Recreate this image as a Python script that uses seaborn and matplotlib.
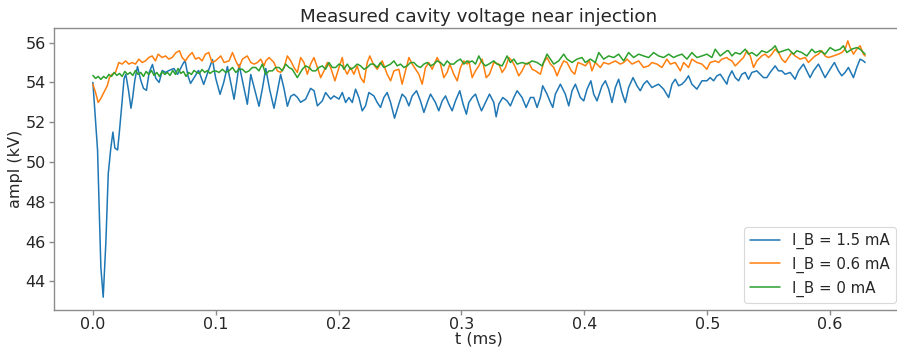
import numpy as np
import pandas as pd
import matplotlib
matplotlib.use("Agg")
import matplotlib.pyplot as plt
import seaborn as sns

# ---- data ----
t_hi = [0.0000, 0.0038, 0.0065, 0.0084, 0.0106, 0.0125, 0.0146, 0.0163, 0.0179, 0.0201,
        0.0214, 0.0233, 0.0254, 0.0268, 0.0290, 0.0310, 0.0323, 0.0341, 0.0363, 0.0390,
        0.0412, 0.0436, 0.0458, 0.0485, 0.0512, 0.0539, 0.0565, 0.0591, 0.0620, 0.0660,
        0.0689, 0.0730, 0.0750, 0.0775, 0.0795, 0.0830, 0.0860, 0.0902, 0.0935, 0.0973,
        0.1000, 0.1035, 0.1065, 0.1095, 0.1125, 0.1149, 0.1170, 0.1190, 0.1220, 0.1257,
        0.1285, 0.1310, 0.1352, 0.1380, 0.1407, 0.1440, 0.1474, 0.1500, 0.1528, 0.1555,
        0.1583, 0.1610, 0.1637, 0.1664, 0.1691, 0.1732, 0.1772, 0.1800, 0.1827, 0.1867,
        0.1894, 0.1935, 0.1962, 0.2003, 0.2030, 0.2057, 0.2084, 0.2111, 0.2138, 0.2165,
        0.2192, 0.2219, 0.2246, 0.2287, 0.2314, 0.2341, 0.2368, 0.2395, 0.2423, 0.2455,
        0.2490, 0.2517, 0.2544, 0.2572, 0.2599, 0.2634, 0.2666, 0.2694, 0.2726, 0.2748,
        0.2788, 0.2815, 0.2843, 0.2870, 0.2897, 0.2924, 0.2951, 0.2986, 0.3013, 0.3040,
        0.3060, 0.3087, 0.3114, 0.3141, 0.3163, 0.3195, 0.3228, 0.3263, 0.3282, 0.3304,
        0.3336, 0.3371, 0.3398, 0.3426, 0.3453, 0.3493, 0.3526, 0.3561, 0.3588, 0.3615,
        0.3642, 0.3661, 0.3696, 0.3724, 0.3743, 0.3764, 0.3805, 0.3845, 0.3873, 0.3900,
        0.3927, 0.3967, 0.3995, 0.4022, 0.4053, 0.4076, 0.4103, 0.4144, 0.4171, 0.4198,
        0.4225, 0.4252, 0.4279, 0.4306, 0.4333, 0.4360, 0.4396, 0.4428, 0.4455, 0.4482,
        0.4510, 0.4550, 0.4577, 0.4604, 0.4645, 0.4686, 0.4713, 0.4740, 0.4767, 0.4794,
        0.4821, 0.4848, 0.4875, 0.4916, 0.4957, 0.4997, 0.5024, 0.5052, 0.5079, 0.5106,
        0.5133, 0.5160, 0.5173, 0.5201, 0.5228, 0.5255, 0.5282, 0.5309, 0.5336, 0.5363,
        0.5404, 0.5431, 0.5458, 0.5485, 0.5512, 0.5553, 0.5580, 0.5607, 0.5634, 0.5675,
        0.5715, 0.5743, 0.5783, 0.5810, 0.5837, 0.5865, 0.5905, 0.5932, 0.5959, 0.6000,
        0.6035, 0.6068, 0.6095, 0.6122, 0.6149, 0.6190, 0.6217, 0.6244, 0.6271, 0.6285]
v_hi = [54.00, 50.60, 44.70, 43.20, 46.00, 49.40, 50.70, 51.50, 50.70, 50.60,
        51.40, 52.70, 54.20, 54.40, 53.60, 52.70, 53.20, 54.10, 54.80, 54.10,
        53.70, 53.60, 54.50, 54.90, 54.20, 54.00, 54.60, 54.50, 54.60, 54.70,
        54.40, 54.90, 55.10, 54.30, 53.95, 54.30, 54.60, 53.90, 54.50, 55.15,
        54.20, 53.40, 54.00, 54.80, 53.90, 53.15, 54.00, 54.90, 54.00, 52.90,
        54.40, 53.80, 52.80, 53.70, 54.70, 53.60, 52.70, 53.50, 54.40, 53.70,
        52.80, 53.30, 53.40, 53.25, 53.00, 53.16, 53.70, 53.58, 52.82, 53.07,
        53.49, 53.16, 53.32, 53.16, 53.49, 52.99, 53.24, 52.99, 53.66, 53.24,
        52.57, 52.82, 53.49, 53.32, 52.99, 52.74, 53.24, 53.49, 52.99, 52.20,
        52.91, 53.41, 53.24, 52.82, 53.32, 53.58, 53.07, 52.49, 53.07, 53.41,
        52.99, 52.57, 53.07, 53.32, 52.91, 52.57, 53.07, 53.58, 52.91, 52.40,
        52.99, 53.24, 53.41, 52.91, 52.57, 52.99, 53.41, 52.99, 52.27, 52.91,
        53.24, 53.07, 52.82, 53.24, 53.58, 53.24, 52.74, 53.24, 53.24, 52.74,
        53.24, 53.83, 53.41, 52.99, 52.74, 53.41, 53.91, 53.41, 52.82, 53.58,
        53.91, 53.24, 53.07, 53.66, 54.08, 53.41, 53.07, 53.83, 54.08, 53.66,
        52.99, 53.74, 54.16, 53.49, 52.99, 53.74, 54.24, 53.83, 53.58, 53.91,
        54.08, 53.74, 53.83, 53.91, 53.66, 53.24, 53.91, 54.16, 53.83, 53.91,
        54.08, 54.33, 53.91, 53.66, 54.08, 54.08, 54.24, 54.08, 54.33, 54.41,
        54.16, 53.91, 54.24, 54.58, 54.24, 54.08, 54.41, 54.50, 54.16, 54.50,
        54.58, 54.41, 54.24, 54.24, 54.50, 54.83, 54.58, 54.58, 54.41, 54.50,
        54.16, 54.58, 54.92, 54.58, 54.24, 54.58, 54.92, 54.58, 54.24, 54.66,
        55.00, 54.58, 54.33, 54.50, 54.75, 54.24, 54.75, 55.17, 55.08, 55.00]

t_mid = [0.0000, 0.0022, 0.0043, 0.0062, 0.0089, 0.0117, 0.0135, 0.0157, 0.0184, 0.0211,
         0.0238, 0.0266, 0.0293, 0.0320, 0.0347, 0.0374, 0.0401, 0.0428, 0.0455, 0.0482,
         0.0509, 0.0531, 0.0564, 0.0591, 0.0618, 0.0645, 0.0677, 0.0705, 0.0726, 0.0753,
         0.0780, 0.0808, 0.0835, 0.0862, 0.0889, 0.0916, 0.0943, 0.0970, 0.0997, 0.1041,
         0.1068, 0.1108, 0.1136, 0.1163, 0.1190, 0.1217, 0.1257, 0.1285, 0.1312, 0.1339,
         0.1366, 0.1393, 0.1407, 0.1434, 0.1474, 0.1501, 0.1528, 0.1556, 0.1583, 0.1610,
         0.1637, 0.1664, 0.1691, 0.1718, 0.1745, 0.1772, 0.1799, 0.1827, 0.1854, 0.1881,
         0.1908, 0.1935, 0.1970, 0.2003, 0.2030, 0.2043, 0.2070, 0.2097, 0.2124, 0.2151,
         0.2179, 0.2206, 0.2233, 0.2254, 0.2282, 0.2314, 0.2355, 0.2395, 0.2423, 0.2450,
         0.2490, 0.2517, 0.2544, 0.2572, 0.2599, 0.2626, 0.2653, 0.2680, 0.2707, 0.2734,
         0.2761, 0.2802, 0.2829, 0.2856, 0.2883, 0.2905, 0.2937, 0.2965, 0.2992, 0.3019,
         0.3046, 0.3060, 0.3087, 0.3114, 0.3141, 0.3168, 0.3201, 0.3228, 0.3263, 0.3304,
         0.3331, 0.3358, 0.3385, 0.3412, 0.3439, 0.3466, 0.3493, 0.3520, 0.3547, 0.3575,
         0.3602, 0.3642, 0.3669, 0.3696, 0.3724, 0.3751, 0.3778, 0.3805, 0.3832, 0.3859,
         0.3894, 0.3921, 0.3948, 0.3981, 0.4008, 0.4041, 0.4062, 0.4089, 0.4130, 0.4157,
         0.4198, 0.4225, 0.4252, 0.4293, 0.4320, 0.4347, 0.4388, 0.4415, 0.4442, 0.4482,
         0.4523, 0.4550, 0.4591, 0.4631, 0.4672, 0.4699, 0.4740, 0.4781, 0.4808, 0.4848,
         0.4875, 0.4916, 0.4957, 0.4997, 0.5024, 0.5065, 0.5092, 0.5119, 0.5160, 0.5173,
         0.5201, 0.5228, 0.5255, 0.5295, 0.5323, 0.5350, 0.5377, 0.5404, 0.5444, 0.5471,
         0.5499, 0.5526, 0.5553, 0.5580, 0.5607, 0.5634, 0.5661, 0.5688, 0.5715, 0.5756,
         0.5797, 0.5824, 0.5851, 0.5878, 0.5905, 0.5932, 0.5959, 0.5986, 0.6027, 0.6068,
         0.6095, 0.6122, 0.6144, 0.6163, 0.6190, 0.6217, 0.6244, 0.6271, 0.6285]
v_mid = [53.91, 53.49, 52.99, 53.16, 53.49, 53.83, 54.24, 54.41, 54.50, 55.00,
         54.92, 55.08, 54.92, 55.00, 54.92, 55.17, 55.00, 55.08, 55.25, 55.33,
         55.08, 55.42, 55.25, 55.33, 55.17, 55.25, 55.50, 55.59, 55.25, 55.08,
         55.33, 55.50, 55.17, 55.25, 55.08, 55.42, 55.50, 55.00, 55.08, 55.33,
         55.00, 55.08, 55.50, 55.08, 54.75, 55.17, 55.33, 55.00, 54.92, 55.00,
         55.17, 54.83, 55.08, 55.25, 55.00, 54.58, 54.50, 54.75, 55.33, 55.08,
         54.75, 54.50, 55.25, 55.00, 54.41, 54.92, 55.25, 54.75, 54.24, 54.58,
         55.00, 54.75, 54.08, 54.75, 55.25, 54.75, 54.41, 54.75, 54.41, 54.83,
         54.24, 53.99, 55.00, 55.33, 54.92, 54.66, 55.08, 54.41, 54.08, 54.58,
         54.66, 53.91, 54.58, 55.25, 54.92, 54.66, 54.41, 53.91, 54.75, 55.00,
         54.66, 55.25, 54.92, 54.24, 54.50, 54.92, 54.41, 54.08, 54.75, 55.08,
         54.92, 55.08, 54.24, 54.58, 54.83, 55.17, 54.24, 54.41, 55.00, 54.92,
         54.50, 54.75, 55.25, 55.08, 54.75, 54.33, 54.58, 54.92, 55.00, 54.66,
         54.58, 54.41, 55.00, 55.25, 54.92, 54.75, 54.33, 54.75, 55.08, 55.00,
         54.58, 54.41, 55.00, 54.92, 54.83, 55.08, 54.58, 55.00, 54.75, 55.00,
         54.92, 55.00, 55.08, 54.92, 55.00, 55.17, 54.92, 55.00, 55.08, 54.75,
         54.83, 55.00, 54.92, 54.75, 55.17, 54.92, 55.00, 54.58, 55.00, 54.75,
         55.17, 55.00, 54.92, 54.66, 55.00, 55.08, 55.00, 55.17, 55.25, 55.17,
         55.08, 54.83, 55.00, 55.25, 55.59, 55.33, 54.75, 55.08, 55.33, 55.42,
         55.25, 55.42, 55.67, 55.50, 55.17, 55.00, 55.25, 55.50, 55.33, 55.17,
         55.25, 55.00, 55.17, 55.33, 55.42, 55.59, 55.33, 55.25, 55.33, 55.42,
         55.50, 55.67, 56.09, 55.75, 55.42, 55.67, 55.84, 55.42, 55.33]

t_zero = [0.0000, 0.0022, 0.0043, 0.0065, 0.0087, 0.0108, 0.0130, 0.0152, 0.0173, 0.0195,
          0.0217, 0.0238, 0.0260, 0.0282, 0.0303, 0.0325, 0.0347, 0.0368, 0.0390, 0.0412,
          0.0433, 0.0455, 0.0477, 0.0498, 0.0520, 0.0542, 0.0563, 0.0585, 0.0607, 0.0628,
          0.0650, 0.0672, 0.0693, 0.0715, 0.0737, 0.0758, 0.0780, 0.0802, 0.0823, 0.0845,
          0.0867, 0.0888, 0.0910, 0.0932, 0.0953, 0.0975, 0.1000, 0.1027, 0.1054, 0.1081,
          0.1108, 0.1136, 0.1163, 0.1190, 0.1217, 0.1244, 0.1271, 0.1298, 0.1325, 0.1352,
          0.1379, 0.1407, 0.1434, 0.1461, 0.1488, 0.1515, 0.1542, 0.1569, 0.1596, 0.1623,
          0.1664, 0.1705, 0.1732, 0.1759, 0.1786, 0.1813, 0.1840, 0.1867, 0.1894, 0.1921,
          0.1949, 0.1976, 0.2003, 0.2030, 0.2043, 0.2070, 0.2097, 0.2124, 0.2151, 0.2179,
          0.2206, 0.2233, 0.2260, 0.2287, 0.2314, 0.2341, 0.2368, 0.2395, 0.2423, 0.2450,
          0.2477, 0.2504, 0.2531, 0.2558, 0.2585, 0.2612, 0.2639, 0.2666, 0.2694, 0.2721,
          0.2748, 0.2775, 0.2802, 0.2829, 0.2856, 0.2883, 0.2910, 0.2937, 0.2965, 0.2992,
          0.3019, 0.3046, 0.3060, 0.3087, 0.3114, 0.3141, 0.3168, 0.3195, 0.3222, 0.3263,
          0.3290, 0.3331, 0.3371, 0.3398, 0.3426, 0.3453, 0.3493, 0.3534, 0.3575, 0.3615,
          0.3656, 0.3696, 0.3724, 0.3751, 0.3791, 0.3832, 0.3859, 0.3900, 0.3940, 0.3981,
          0.4008, 0.4049, 0.4089, 0.4117, 0.4157, 0.4198, 0.4239, 0.4279, 0.4320, 0.4360,
          0.4401, 0.4442, 0.4482, 0.4523, 0.4564, 0.4604, 0.4645, 0.4686, 0.4726, 0.4753,
          0.4794, 0.4835, 0.4875, 0.4916, 0.4957, 0.4997, 0.5038, 0.5065, 0.5106, 0.5160,
          0.5173, 0.5201, 0.5228, 0.5268, 0.5309, 0.5336, 0.5363, 0.5404, 0.5444, 0.5485,
          0.5526, 0.5553, 0.5580, 0.5621, 0.5661, 0.5702, 0.5729, 0.5770, 0.5810, 0.5851,
          0.5878, 0.5919, 0.5959, 0.6000, 0.6041, 0.6081, 0.6108, 0.6136, 0.6176, 0.6217,
          0.6244, 0.6285]
v_zero = [54.35, 54.20, 54.30, 54.15, 54.30, 54.20, 54.40, 54.30, 54.50, 54.35,
          54.45, 54.30, 54.55, 54.40, 54.50, 54.35, 54.60, 54.40, 54.50, 54.30,
          54.55, 54.40, 54.60, 54.35, 54.50, 54.30, 54.55, 54.40, 54.50, 54.35,
          54.60, 54.40, 54.70, 54.45, 54.55, 54.30, 54.50, 54.40, 54.60, 54.50,
          54.45, 54.65, 54.50, 54.60, 54.45, 54.55, 54.58, 54.50, 54.66, 54.50,
          54.58, 54.75, 54.50, 54.66, 54.66, 54.50, 54.58, 54.75, 54.75, 54.58,
          54.92, 54.41, 54.58, 54.58, 54.75, 54.75, 54.58, 54.92, 54.75, 54.66,
          54.24, 54.66, 54.83, 54.75, 54.58, 54.58, 54.75, 54.83, 54.66, 55.00,
          54.75, 54.75, 54.92, 54.83, 54.66, 54.92, 54.66, 54.75, 54.92, 54.83,
          54.66, 54.75, 54.92, 54.92, 54.75, 55.00, 54.75, 54.83, 54.92, 55.08,
          54.83, 54.92, 54.75, 54.83, 55.00, 55.00, 54.83, 54.75, 54.92, 55.00,
          54.83, 54.92, 55.08, 55.00, 54.83, 55.08, 54.92, 54.92, 55.08, 55.17,
          54.92, 55.08, 55.00, 55.08, 54.92, 55.33, 55.00, 54.83, 54.92, 55.08,
          54.92, 54.83, 55.33, 55.00, 55.17, 54.92, 55.00, 54.92, 55.08, 55.00,
          54.83, 55.42, 55.17, 54.92, 55.08, 55.42, 55.17, 55.00, 55.17, 55.25,
          55.00, 55.17, 55.00, 55.50, 55.17, 55.33, 55.25, 55.42, 55.08, 55.50,
          55.25, 55.42, 55.33, 55.25, 55.50, 55.33, 55.25, 55.42, 55.25, 55.33,
          55.42, 55.17, 55.50, 55.25, 55.33, 55.42, 55.25, 55.67, 55.33, 55.59,
          55.59, 55.33, 55.50, 55.42, 55.67, 55.42, 55.50, 55.33, 55.59, 55.50,
          55.67, 55.84, 55.50, 55.59, 55.67, 55.42, 55.59, 55.50, 55.33, 55.67,
          55.50, 55.59, 55.42, 55.75, 55.59, 55.67, 55.84, 55.50, 55.67, 55.75,
          55.67, 55.42]

labels = ["I_B = 1.5 mA", "I_B = 0.6 mA", "I_B = 0 mA"]
colors = ["#1f77b4", "#ff7f0e", "#2ca02c"]
title = "Measured cavity voltage near injection"
xlabel = "t (ms)"
ylabel = "ampl (kV)"
xticks = [0.0, 0.1, 0.2, 0.3, 0.4, 0.5, 0.6]
yticks = [44, 46, 48, 50, 52, 54, 56]

# ---- style ----
sns.set_theme(style="ticks")
plt.rcParams["font.family"] = ["DejaVu Sans"]
plt.rcParams.update({
    "font.size": 11.5,
    "axes.titlesize": 13.2,
    "axes.labelsize": 11.5,
    "xtick.labelsize": 11.5,
    "ytick.labelsize": 11.5,
    "legend.fontsize": 10.8,
    "axes.edgecolor": "#8c8c8c",
    "axes.linewidth": 1.0,
    "xtick.color": "#8c8c8c",
    "ytick.color": "#8c8c8c",
    "xtick.labelcolor": "#262626",
    "ytick.labelcolor": "#262626",
    "axes.labelcolor": "#262626",
    "text.color": "#262626",
})

fig = plt.figure(figsize=(8.97, 3.47), dpi=100)
ax = fig.add_axes([0.0605, 0.1066, 0.947, 0.8127])

frames = [
    pd.DataFrame({"t": t_hi, "v": v_hi}),
    pd.DataFrame({"t": t_mid, "v": v_mid}),
    pd.DataFrame({"t": t_zero, "v": v_zero}),
]
for df, lab, col in zip(frames, labels, colors):
    sns.lineplot(data=df, x="t", y="v", ax=ax, color=col, label=lab,
                 linewidth=1.1, estimator=None)

ax.set_xticks(xticks)
ax.set_yticks(yticks)
ax.set_xticklabels([f"{x:.1f}" for x in xticks])
ax.set_yticklabels([str(y) for y in yticks])
ax.margins(x=0.05, y=0.05)
ax.set_title(title, pad=4)
ax.set_xlabel(xlabel, labelpad=0)
ax.set_ylabel(ylabel, labelpad=1.5)
ax.tick_params(axis="x", length=3.5, width=1.0, pad=1.5)
ax.tick_params(axis="y", length=3.5, width=1.0, pad=2.5)
for s in ["top", "right", "left", "bottom"]:
    ax.spines[s].set_visible(True)

leg = ax.legend(loc="lower right", frameon=True, fancybox=True,
                handlelength=2.0, borderpad=0.4, labelspacing=0.5)
leg.get_frame().set_edgecolor("#d0d0d0")
leg.get_frame().set_linewidth(0.8)
for line in leg.get_lines():
    line.set_linewidth(1.1)

fig.savefig("out.png", dpi=100)
